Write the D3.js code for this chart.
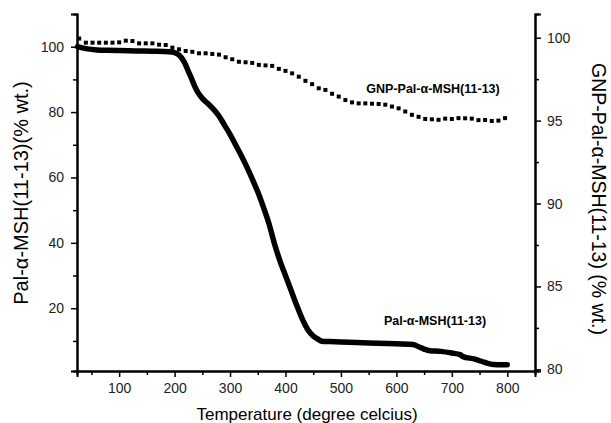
<!DOCTYPE html>
<html>
<head>
<meta charset="utf-8">
<script src="https://d3js.org/d3.v7.min.js"></script>
<style>
  body { margin: 0; background: #fff; }
  text { font-family: "Liberation Sans", Arial, sans-serif; }
</style>
</head>
<body>
<script>
let width = 611,
    height = 423;

// Pal-a-MSH(11-13), left axis, solid line
let palTemp = [25, 40, 60, 80, 100, 130, 160, 190, 200, 207, 213, 219, 224, 230, 236, 242, 250, 260, 270, 280,
               290, 300, 310, 320, 330, 340, 350, 360, 370, 380, 390, 400, 410, 420, 430, 440, 450, 460, 465, 480,
               500, 550, 600, 630, 640, 650, 660, 680, 700, 715, 720, 740, 760, 775, 790, 800];
let palWt = [100.0, 99.4, 99.0, 98.9, 98.85, 98.7, 98.6, 98.45, 98.2, 97.6, 96.5, 94.8, 92.8, 90.5, 88.0, 86.0, 84.2, 82.6, 80.9, 78.8,
             76.0, 73.2, 70.0, 66.8, 63.3, 59.6, 55.6, 51.0, 46.0, 39.8, 34.5, 30.0, 25.5, 21.0, 16.8, 13.5, 11.5, 10.4, 9.9, 9.8,
             9.7, 9.4, 9.1, 8.9, 8.2, 7.5, 7.0, 6.8, 6.3, 5.8, 5.2, 4.5, 3.4, 2.8, 2.7, 2.7];

// GNP-Pal-a-MSH(11-13), right axis, square markers
let gnpTemp = [28, 40, 52, 64, 76, 88, 100, 112, 124, 136, 148, 160, 172, 184, 196, 208, 220, 232, 244, 256,
               268, 280, 292, 304, 316, 328, 340, 352, 364, 376, 388, 400, 412, 424, 436, 448, 460, 472, 484, 496,
               508, 520, 532, 544, 556, 568, 580, 592, 604, 616, 628, 640, 652, 664, 676, 688, 700, 712, 724, 736,
               748, 760, 772, 784, 796];
let gnpWt = [99.95, 99.70, 99.70, 99.70, 99.70, 99.70, 99.72, 99.82, 99.80, 99.66, 99.66, 99.66, 99.58, 99.56, 99.40, 99.30, 99.20, 99.15, 99.06, 99.06,
             99.02, 98.98, 98.82, 98.70, 98.55, 98.52, 98.48, 98.36, 98.33, 98.30, 98.12, 98.00, 97.85, 97.65, 97.40, 97.20, 96.95, 96.85, 96.62, 96.45,
             96.24, 96.10, 96.04, 96.04, 96.02, 96.00, 95.96, 95.85, 95.74, 95.55, 95.35, 95.23, 95.10, 95.08, 95.05, 95.12, 95.10, 95.15, 95.14, 95.12,
             95.03, 95.04, 94.98, 95.00, 95.15];

let xTicks = [100, 200, 300, 400, 500, 600, 700, 800];
let xMinor = [50, 150, 250, 350, 450, 550, 650, 750];
let leftTicks = [20, 40, 60, 80, 100];
let leftMinor = [10, 30, 50, 70, 90];
let rightTicks = [80, 85, 90, 95, 100];
let rightMinor = [82.5, 87.5, 92.5, 97.5];

let svg = d3.select("body").append("svg")
    .attr("width", width)
    .attr("height", height);

let x = d3.scaleLinear().domain([24, 850]).range([77, 535]);
let yLeft = d3.scaleLinear().domain([0.8, 110]).range([371, 14]);
let yRight = d3.scaleLinear().domain([79.9, 101.43]).range([371, 14]);

function styleAxis(g) {
    g.select(".domain").attr("stroke", "#000").attr("stroke-width", 2);
    g.selectAll(".tick line").attr("stroke", "#000").attr("stroke-width", 1.5);
    g.selectAll(".tick text").attr("fill", "#222")
        .style("font-family", "Liberation Sans, Arial, sans-serif")
        .style("font-size", "14px");
}

// minor ticks first, no labels
svg.append("g").attr("transform", "translate(0,371)")
    .call(d3.axisBottom(x).tickValues(xMinor).tickSize(4).tickFormat(""))
    .call(styleAxis);
svg.append("g").attr("transform", "translate(77,0)")
    .call(d3.axisLeft(yLeft).tickValues(leftMinor).tickSize(4).tickFormat(""))
    .call(styleAxis);
svg.append("g").attr("transform", "translate(535,0)")
    .call(d3.axisRight(yRight).tickValues(rightMinor).tickSize(4).tickFormat(""))
    .call(styleAxis);

// major ticks
svg.append("g").attr("transform", "translate(0,371)")
    .call(d3.axisBottom(x).tickValues(xTicks).tickSize(6).tickPadding(6).tickFormat(d3.format("d")))
    .call(styleAxis);
svg.append("g").attr("transform", "translate(77,0)")
    .call(d3.axisLeft(yLeft).tickValues(leftTicks).tickSize(6).tickPadding(7).tickFormat(d3.format("d")))
    .call(styleAxis);
svg.append("g").attr("transform", "translate(535,0)")
    .call(d3.axisRight(yRight).tickValues(rightTicks).tickSize(6).tickPadding(6).tickFormat(d3.format("d")))
    .call(styleAxis);

// solid curve
let palData = palTemp.map((t, i) => [t, palWt[i]]);
let line = d3.line()
    .x(d => x(d[0]))
    .y(d => yLeft(d[1]))
    .curve(d3.curveMonotoneX);

svg.append("path")
    .datum(palData)
    .attr("d", line)
    .attr("fill", "none")
    .attr("stroke", "#000")
    .attr("stroke-width", 5.5)
    .attr("stroke-linejoin", "round")
    .attr("stroke-linecap", "round");

// square markers
let gnpData = gnpTemp.map((t, i) => [t, gnpWt[i]]);
svg.selectAll("rect.gnp")
    .data(gnpData)
    .join("rect")
        .attr("class", "gnp")
        .attr("x", d => x(d[0]) - 2)
        .attr("y", d => yRight(d[1]) - 2)
        .attr("width", 4)
        .attr("height", 4)
        .attr("fill", "#000");

// annotations
svg.append("text")
    .attr("x", 433).attr("y", 93)
    .attr("text-anchor", "middle")
    .style("font-size", "12.5px").style("font-weight", "bold")
    .text("GNP-Pal-α-MSH(11-13)");
svg.append("text")
    .attr("x", 435).attr("y", 325)
    .attr("text-anchor", "middle")
    .style("font-size", "12.5px").style("font-weight", "bold")
    .text("Pal-α-MSH(11-13)");

// axis titles
svg.append("text")
    .attr("transform", "translate(28,193) rotate(-90)")
    .attr("text-anchor", "middle")
    .style("font-size", "20px")
    .text("Pal-α-MSH(11-13)(% wt.)");
svg.append("text")
    .attr("transform", "translate(592,199) rotate(90)")
    .attr("text-anchor", "middle")
    .style("font-size", "19.5px")
    .text("GNP-Pal-α-MSH(11-13) (% wt.)");
svg.append("text")
    .attr("x", 307).attr("y", 420)
    .attr("text-anchor", "middle")
    .style("font-size", "17px")
    .text("Temperature (degree celcius)");
</script>
</body>
</html>
